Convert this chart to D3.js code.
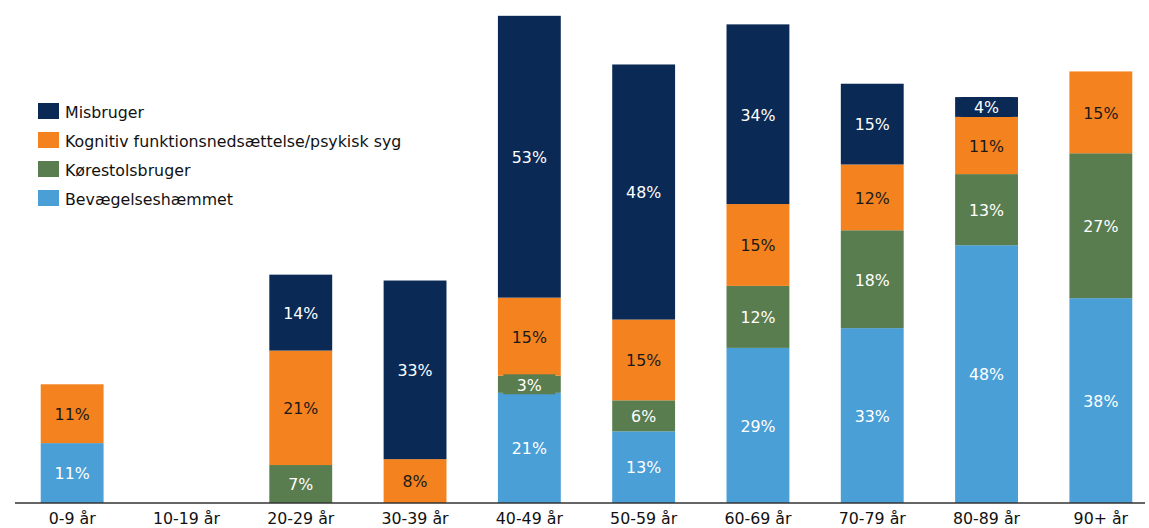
<!DOCTYPE html>
<html><head><meta charset="utf-8">
<script src="https://cdn.jsdelivr.net/npm/d3@7"></script>
<style>body{margin:0;background:#fff}svg{display:block}text{font-family:"DejaVu Sans",Verdana,sans-serif}</style>
</head><body><svg id="c" width="1149" height="528"></svg>
<script>
const categories = ["0-9 år","10-19 år","20-29 år","30-39 år","40-49 år","50-59 år","60-69 år","70-79 år","80-89 år","90+ år"];
const seriesNames = ["Bevægelseshæmmet","Kørestolsbruger","Kognitiv funktionsnedsættelse/psykisk syg","Misbruger"];
const bevaegelseshaemmet = [11.2, 0, 0, 0, 20.6, 13.4, 29.0, 32.7, 48.2, 38.3];
const koerestolsbruger   = [0, 0, 7.1, 0, 3.2, 5.8, 11.6, 18.3, 13.3, 27.1];
const kognitiv           = [11.0, 0, 21.4, 8.2, 14.6, 15.1, 15.3, 12.3, 10.7, 15.3];
const misbruger          = [0, 0, 14.2, 33.4, 52.7, 47.7, 33.6, 15.1, 3.7, 0];
const colors = ["#4a9fd7","#5a7d4f","#f4821f","#0a2a55"];
const labelColors = ["#ffffff","#ffffff","#1a1a1a","#ffffff"];
const legendOrder = [3,2,1,0];
const FS = 15.8;

const svg = d3.select("#c");
const x = d3.scaleBand().domain(categories).range([15,1158]).paddingInner(0.45).paddingOuter(0.225);
const y = d3.scaleLinear().domain([0,92]).range([503,11]);

const rows = categories.map((c,i)=>({cat:c, v:[bevaegelseshaemmet[i],koerestolsbruger[i],kognitiv[i],misbruger[i]]}));
const stack = d3.stack().keys([0,1,2,3]).value((d,k)=>d.v[k]);
const layers = stack(rows);

layers.forEach((layer,k)=>{
  const g = svg.append("g");
  layer.forEach((seg,i)=>{
    const val = seg[1]-seg[0];
    if(val<=0) return;
    const x0 = x(categories[i]), w = x.bandwidth();
    const yt = y(seg[1]), yb = y(seg[0]);
    g.append("rect").attr("x",x0).attr("y",yt).attr("width",w).attr("height",yb-yt).attr("fill",colors[k]);
  });
});
// labels
layers.forEach((layer,k)=>{
  layer.forEach((seg,i)=>{
    const val = seg[1]-seg[0];
    if(val<=0) return;
    const cx = x(categories[i]) + x.bandwidth()/2;
    const cy = (y(seg[1])+y(seg[0]))/2;
    const h = y(seg[0])-y(seg[1]);
    if(h<20){
      svg.append("rect").attr("x",cx-26).attr("y",cy-10).attr("width",52).attr("height",20).attr("fill",colors[k]);
    }
    svg.append("text").attr("x",cx).attr("y",cy).attr("dy","0.4em").attr("text-anchor","middle")
      .attr("font-size",FS).attr("fill",labelColors[k]).text(Math.round(val)+"%");
  });
});

// axis
const axis = svg.append("g").attr("transform","translate(0,503)")
  .call(d3.axisBottom(x).tickSize(0).tickPadding(10).tickSizeOuter(0));
axis.select(".domain").attr("stroke","#333").attr("stroke-width",1.5).attr("d","M15,0H1145");
axis.selectAll("text").attr("font-size",FS).attr("fill","#111").attr("font-family","DejaVu Sans, Verdana, sans-serif");

// legend
const leg = svg.append("g");
legendOrder.forEach((k,j)=>{
  const yy = 103 + j*29;
  leg.append("rect").attr("x",38).attr("y",yy).attr("width",21).attr("height",16).attr("fill",colors[k]);
  leg.append("text").attr("x",65).attr("y",yy+9).attr("dy","0.38em").attr("font-size",FS).attr("fill","#111").text(seriesNames[k]);
});
</script></body></html>
